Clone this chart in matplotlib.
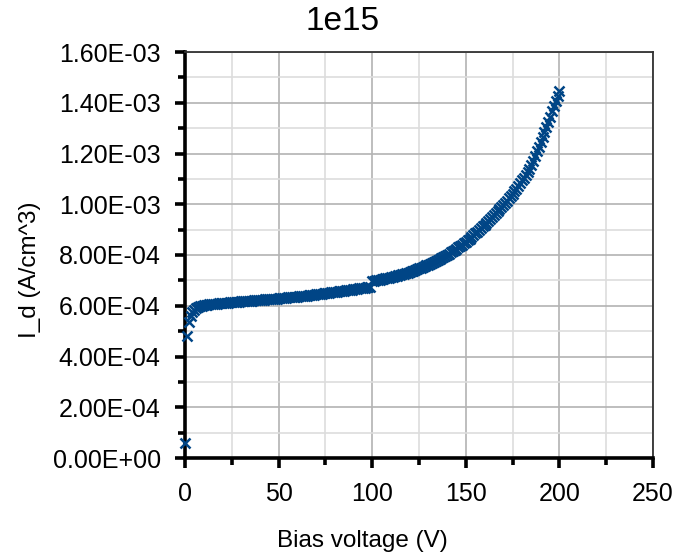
import numpy as np
import matplotlib.pyplot as plt
from matplotlib.ticker import MultipleLocator, FuncFormatter

plt.rcParams['font.family'] = ['Liberation Sans', 'DejaVu Sans']

# bias voltage (V), 1 V steps
bias = np.arange(0, 201)

# leakage current density, in units of 1e-4 A/cm^3
i_d = [
    0.60, 4.82, 5.37, 5.60, 5.75, 5.85, 5.91, 5.95, 5.98, 6.00,
    6.02, 6.03, 6.04, 6.05, 6.06, 6.07, 6.08, 6.085, 6.09, 6.10,
    6.11, 6.115, 6.12, 6.125, 6.13, 6.14, 6.145, 6.15, 6.155, 6.165,
    6.17, 6.175, 6.18, 6.19, 6.195, 6.20, 6.205, 6.21, 6.22, 6.225,
    6.23, 6.235, 6.24, 6.25, 6.255, 6.26, 6.265, 6.27, 6.28, 6.285,
    6.29, 6.30, 6.305, 6.31, 6.32, 6.33, 6.335, 6.34, 6.35, 6.355,
    6.36, 6.37, 6.38, 6.385, 6.39, 6.40, 6.41, 6.42, 6.43, 6.44,
    6.45, 6.46, 6.47, 6.48, 6.49, 6.50, 6.51, 6.52, 6.53, 6.54,
    6.55, 6.56, 6.57, 6.58, 6.59, 6.60, 6.61, 6.62, 6.63, 6.64,
    6.65, 6.66, 6.67, 6.68, 6.69, 6.70, 6.71, 6.72, 6.73, 6.75,
    6.98, 6.99, 7.00, 7.02, 7.03, 7.05, 7.06, 7.08, 7.09, 7.11,
    7.13, 7.15, 7.17, 7.19, 7.21, 7.23, 7.25, 7.27, 7.29, 7.31,
    7.33, 7.36, 7.38, 7.41, 7.44, 7.47, 7.50, 7.53, 7.56, 7.59,
    7.62, 7.65, 7.69, 7.72, 7.76, 7.80, 7.84, 7.88, 7.92, 7.96,
    8.00, 8.05, 8.10, 8.15, 8.20, 8.25, 8.30, 8.35, 8.41, 8.46,
    8.52, 8.58, 8.64, 8.71, 8.78, 8.85, 8.92, 8.99, 9.06, 9.13,
    9.20, 9.27, 9.34, 9.41, 9.48, 9.56, 9.64, 9.72, 9.80, 9.88,
    9.96, 10.05, 10.14, 10.23, 10.32, 10.42, 10.52, 10.62, 10.72, 10.83,
    10.94, 11.05, 11.16, 11.28, 11.40, 11.55, 11.72, 11.90, 12.08, 12.26,
    12.45, 12.65, 12.85, 13.05, 13.25, 13.45, 13.67, 13.89, 14.05, 14.25,
    14.45,
]
i_d = np.array(i_d) * 1e-4

fig = plt.figure(figsize=(6.77, 5.6), dpi=100)
ax = fig.add_axes([185 / 677, 102 / 560, 468 / 677, 406 / 560])

ax.plot(bias, i_d, linestyle='none', marker='x', color='#004586',
        markersize=7.5, markeredgewidth=1.8, clip_on=False, zorder=5)

ax.set_xlim(0, 250)
ax.set_ylim(0, 1.6e-3)
ax.xaxis.set_major_locator(MultipleLocator(50))
ax.xaxis.set_minor_locator(MultipleLocator(25))
ax.yaxis.set_major_locator(MultipleLocator(2e-4))
ax.yaxis.set_minor_locator(MultipleLocator(1e-4))
ax.yaxis.set_major_formatter(FuncFormatter(lambda v, p: f"{v:.2E}"))

ax.grid(which='major', color='#b3b3b3', linewidth=1.2)
ax.grid(which='minor', color='#dddddd', linewidth=1.2)
ax.set_axisbelow(True)

for s in ['left', 'bottom']:
    ax.spines[s].set_linewidth(2.6)
for s in ['top', 'right']:
    ax.spines[s].set_linewidth(1.3)
    ax.spines[s].set_color('#333333')

ax.tick_params(which='major', direction='out', length=7.5, width=2.6,
               labelsize=18, pad=10)
ax.tick_params(which='minor', direction='out', length=5, width=2.6)

fig.text(343 / 677, 1 - 22 / 560, "1e15", fontsize=24, ha='center', va='center')
ax.set_xlabel("Bias voltage (V)", fontsize=17.5)
ax.xaxis.set_label_coords((362 - 185) / 468, -(530 - 458) / 406)
ax.set_ylabel("I_d (A/cm^3)", fontsize=17.5)
ax.yaxis.set_label_coords(-(185 - 41) / 468, (458 - 270) / 406)

fig.savefig("out.png", dpi=100)
